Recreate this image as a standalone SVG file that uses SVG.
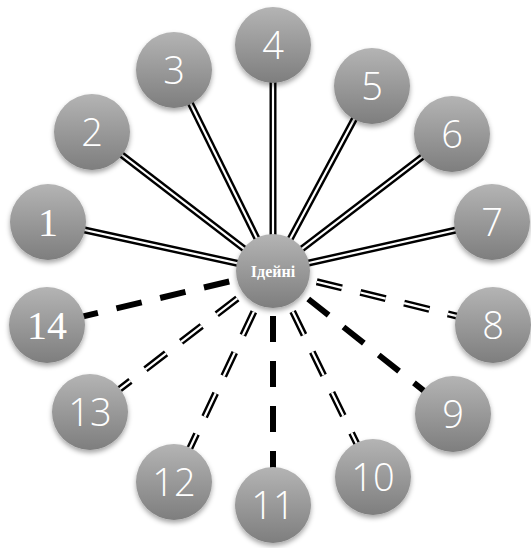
<svg xmlns="http://www.w3.org/2000/svg" width="531" height="548" viewBox="0 0 531 548">
<defs>
<linearGradient id="g" x1="0" y1="0" x2="0" y2="1">
<stop offset="0" stop-color="#b4b4b4"/>
<stop offset="1" stop-color="#7e7e7e"/>
</linearGradient>
<filter id="sh" x="-30%" y="-30%" width="160%" height="170%">
<feDropShadow dx="0" dy="3" stdDeviation="2.5" flood-color="#000" flood-opacity="0.35"/>
</filter>
</defs>
<style>
.n{fill:url(#g);filter:url(#sh)}
.t{fill:#fff;font-family:"Open Sans","Liberation Sans",sans-serif;font-weight:300;font-size:38px;text-anchor:middle}
.ts{fill:#fff;font-family:"Liberation Serif",serif;font-size:40px;text-anchor:middle}
.c{fill:#fff;font-family:"Liberation Serif",serif;font-weight:bold;font-size:16px;text-anchor:middle}
.db{stroke:#000;stroke-width:7;fill:none}
.dw{stroke:#fff;stroke-width:2.2;fill:none}
.dd{stroke-dasharray:26 19}
.th{stroke:#000;stroke-width:6;fill:none;stroke-dasharray:26 19}
</style>
<g id="connectors">
<g id="e1"><line class="db" x1="273" y1="271" x2="48" y2="222"/><line class="dw" x1="273" y1="271" x2="48" y2="222"/></g>
<g id="e2"><line class="db" x1="273" y1="271" x2="92" y2="132"/><line class="dw" x1="273" y1="271" x2="92" y2="132"/></g>
<g id="e3"><line class="db" x1="273" y1="271" x2="174" y2="70"/><line class="dw" x1="273" y1="271" x2="174" y2="70"/></g>
<g id="e4"><line class="db" x1="273" y1="271" x2="273" y2="45"/><line class="dw" x1="273" y1="271" x2="273" y2="45"/></g>
<g id="e5"><line class="db" x1="273" y1="271" x2="372" y2="86"/><line class="dw" x1="273" y1="271" x2="372" y2="86"/></g>
<g id="e6"><line class="db" x1="273" y1="271" x2="452" y2="134"/><line class="dw" x1="273" y1="271" x2="452" y2="134"/></g>
<g id="e7"><line class="db" x1="273" y1="271" x2="492" y2="222"/><line class="dw" x1="273" y1="271" x2="492" y2="222"/></g>
<g id="e8"><line class="db dd" x1="273" y1="271" x2="493" y2="325"/><line class="dw dd" x1="273" y1="271" x2="493" y2="325"/></g>
<line id="e9" class="th" x1="273" y1="271" x2="453" y2="414"/>
<g id="e10"><line class="db dd" x1="273" y1="271" x2="373" y2="477"/><line class="dw dd" x1="273" y1="271" x2="373" y2="477"/></g>
<line id="e11" class="th" x1="273" y1="271" x2="273" y2="505"/>
<g id="e12"><line class="db dd" x1="273" y1="271" x2="174" y2="482"/><line class="dw dd" x1="273" y1="271" x2="174" y2="482"/></g>
<g id="e13"><line class="db dd" x1="273" y1="271" x2="90" y2="412"/><line class="dw dd" x1="273" y1="271" x2="90" y2="412"/></g>
<line id="e14" class="th" x1="273" y1="271" x2="47" y2="325"/>
</g>
<g id="n1"><circle class="n" cx="48" cy="222" r="38"/><text class="ts" x="48" y="236">1</text></g>
<g id="n2"><circle class="n" cx="92" cy="132" r="38"/><text class="t" x="92" y="146">2</text></g>
<g id="n3"><circle class="n" cx="174" cy="70" r="38"/><text class="t" x="174" y="84">3</text></g>
<g id="n4"><circle class="n" cx="273" cy="45" r="38"/><text class="t" x="273" y="59">4</text></g>
<g id="n5"><circle class="n" cx="372" cy="86" r="38"/><text class="t" x="372" y="100">5</text></g>
<g id="n6"><circle class="n" cx="452" cy="134" r="38"/><text class="t" x="452" y="148">6</text></g>
<g id="n7"><circle class="n" cx="492" cy="222" r="38"/><text class="t" x="492" y="236">7</text></g>
<g id="n8"><circle class="n" cx="493" cy="325" r="38"/><text class="t" x="493" y="339">8</text></g>
<g id="n9"><circle class="n" cx="453" cy="414" r="38"/><text class="t" x="453" y="428">9</text></g>
<g id="n10"><circle class="n" cx="373" cy="477" r="38"/><text class="t" x="373" y="491">10</text></g>
<g id="n11"><circle class="n" cx="273" cy="505" r="38"/><text class="t" x="273" y="519">11</text></g>
<g id="n12"><circle class="n" cx="174" cy="482" r="38"/><text class="t" x="174" y="496">12</text></g>
<g id="n13"><circle class="n" cx="90" cy="412" r="38"/><text class="t" x="90" y="426">13</text></g>
<g id="n14"><circle class="n" cx="47" cy="325" r="38"/><text class="ts" x="47" y="339">14</text></g>
<g id="center"><circle class="n" cx="273" cy="271" r="37"/><text class="c" x="273" y="277">Ідейні</text></g>
</svg>
